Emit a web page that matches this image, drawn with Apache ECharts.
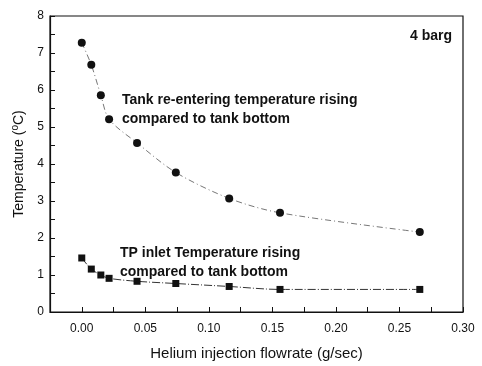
<!DOCTYPE html>
<html>
<head>
<meta charset="utf-8">
<script src="https://cdn.jsdelivr.net/npm/echarts@6/dist/echarts.min.js"></script>
<style>
  html, body { margin: 0; padding: 0; background: #fff; }
  #main { width: 482px; height: 366px; }
</style>
</head>
<body>
<div id="main"></div>
<script>
// flowrate (g/sec)
const flowrate = [0.0, 0.0075, 0.015, 0.0215, 0.0435, 0.074, 0.116, 0.156, 0.266];
// temperature rising (°C)
const tankReentering = [7.28, 6.68, 5.86, 5.21, 4.57, 3.77, 3.07, 2.68, 2.16];
const tpInlet = [1.46, 1.16, 1.0, 0.91, 0.83, 0.77, 0.69, 0.61, 0.61];
const xTicks = [0.0, 0.05, 0.1, 0.15, 0.2, 0.25, 0.3];
const yTicks = [0, 1, 2, 3, 4, 5, 6, 7, 8];

const font = 'Liberation Sans, Arial, sans-serif';
const pair = (xs, ys) => xs.map((x, i) => [x, ys[i]]);

const myChart = echarts.init(document.getElementById('main'));
const option = {
  animation: false,
  backgroundColor: '#fff',
  textStyle: { fontFamily: font, color: '#111' },
  grid: { left: 50, right: 19, top: 16, bottom: 47, show: true, borderColor: '#111', borderWidth: 1.2 },
  xAxis: {
    type: 'value',
    min: -0.025,
    max: 0.3,
    interval: 0.025,
    name: 'Helium injection flowrate (g/sec)',
    nameLocation: 'middle',
    nameGap: 34,
    nameTextStyle: { fontSize: 15, fontFamily: font, color: '#111' },
    axisLine: { show: true, onZero: false, lineStyle: { color: '#111', width: 1.2 } },
    axisTick: { show: true, inside: true, length: 5, lineStyle: { color: '#111' } },
    splitLine: { show: false },
    axisLabel: {
      fontSize: 12, color: '#111', margin: 11,
      formatter: v => {
        const hit = xTicks.find(t => Math.abs(t - v) < 1e-9);
        return hit === undefined ? '' : hit.toFixed(2);
      }
    }
  },
  yAxis: {
    type: 'value',
    min: 0,
    max: 8,
    interval: 0.5,
    name: '{n|Temperature (}{s|o}{n|C)}',
    nameLocation: 'middle',
    nameGap: 19,
    nameTextStyle: {
      fontFamily: font, color: '#111',
      rich: {
        n: { fontSize: 14, fontFamily: font, color: '#111' },
        s: { fontSize: 10, fontFamily: font, color: '#111', verticalAlign: 'top', padding: [0, 0, 8, 0] }
      }
    },
    axisLine: { show: true, onZero: false, lineStyle: { color: '#111', width: 1.2 } },
    axisTick: { show: true, inside: true, length: 5, lineStyle: { color: '#111' } },
    splitLine: { show: false },
    axisLabel: {
      fontSize: 12, color: '#111', margin: 6,
      formatter: v => (yTicks.indexOf(v) >= 0 ? String(v) : '')
    }
  },
  series: [
    {
      name: 'Tank re-entering',
      type: 'line',
      data: pair(flowrate, tankReentering),
      smooth: 0.3,
      symbol: 'circle',
      symbolSize: 8,
      itemStyle: { color: '#111' },
      lineStyle: { color: '#777', width: 1, type: [6, 3, 1, 3] }
    },
    {
      name: 'TP inlet',
      type: 'line',
      data: pair(flowrate, tpInlet),
      smooth: 0.3,
      symbol: 'rect',
      symbolSize: 7,
      itemStyle: { color: '#111' },
      lineStyle: { color: '#333', width: 1, type: [8, 2, 1, 2] }
    }
  ],
  graphic: [
    { type: 'text', left: 410, top: 29, style: { text: '4 barg', font: 'bold 14px ' + font, fill: '#111' } },
    { type: 'text', left: 122, top: 91, style: { text: 'Tank re-entering temperature rising\ncompared to tank bottom', font: 'bold 14px ' + font, fill: '#111', lineHeight: 19 } },
    { type: 'text', left: 120, top: 244, style: { text: 'TP inlet Temperature rising\ncompared to tank bottom', font: 'bold 14px ' + font, fill: '#111', lineHeight: 19 } }
  ]
};
myChart.setOption(option);
</script>
</body>
</html>
